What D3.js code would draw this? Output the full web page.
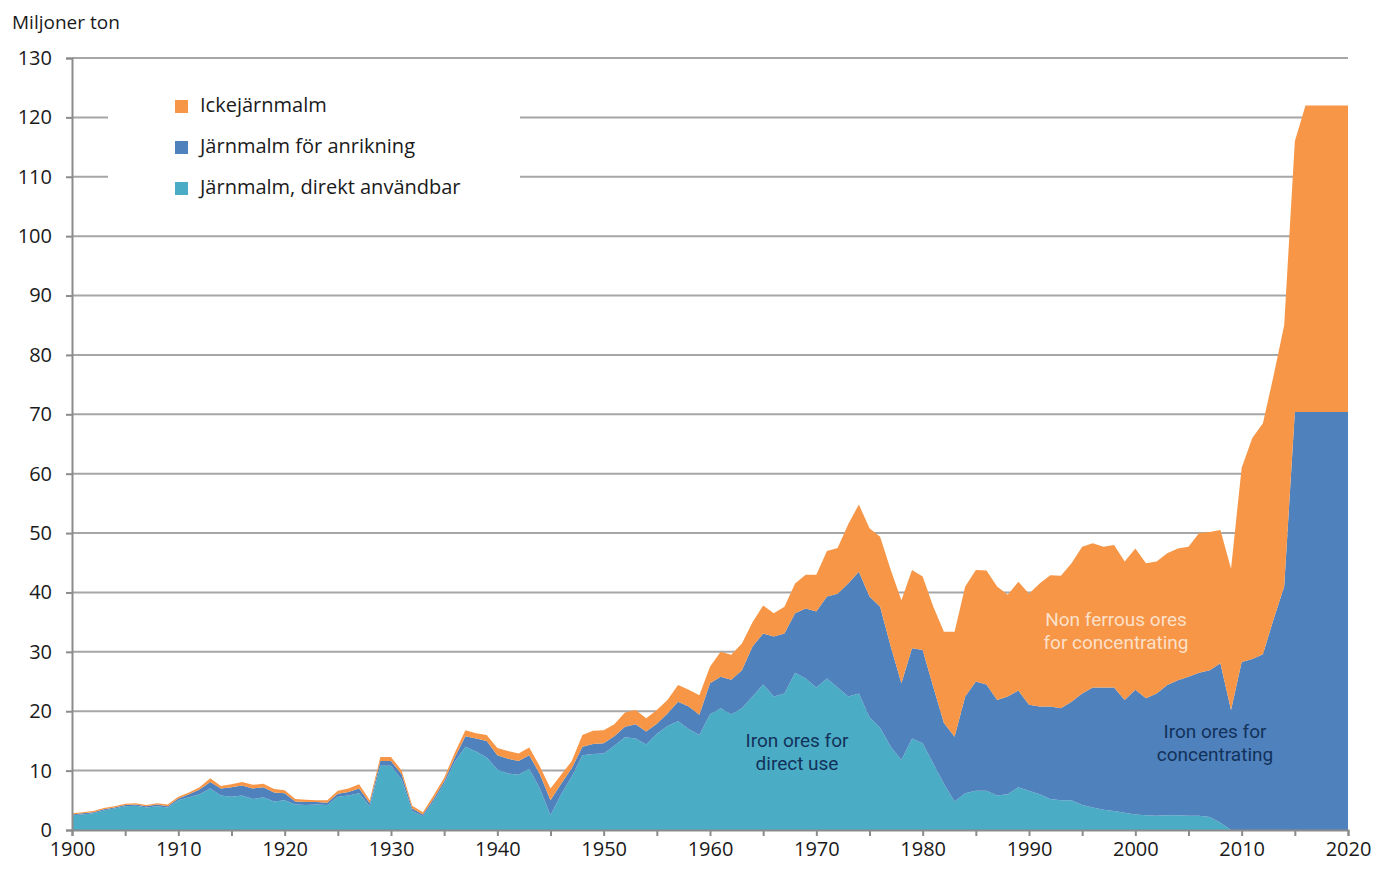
<!DOCTYPE html>
<html>
<head>
<meta charset="utf-8">
<script src="https://cdn.jsdelivr.net/npm/d3@7"></script>
<style>
  body { margin: 0; background: #fff; }
  text { font-family: "Open Sans", "Noto Sans", sans-serif; }
</style>
</head>
<body>
<script>
// years 1900-2020, one value per year
var firstYear = 1900
var lastYear = 2020

// Järnmalm, direkt användbar (iron ore for direct use), Mt
var directUse = [
  2.5, 2.6, 2.8, 3.3, 3.6, 4.0, 4.1, 3.8, 4.0, 3.8,
  5.0, 5.5, 6.0, 7.0, 5.8, 5.6, 5.8, 5.2, 5.5, 4.8,
  5.0, 4.3, 4.2, 4.3, 4.2, 5.6, 5.8, 6.2, 4.0, 10.8,
  10.8, 8.5, 3.2, 2.3, 4.8, 7.8, 11.5, 14.0, 13.2, 12.2,
  10.2, 9.5, 9.3, 10.3, 7.0, 2.5, 6.0, 9.0, 12.6, 12.8,
  12.9, 14.2, 15.6, 15.4, 14.4, 16.2, 17.5, 18.3, 17.0, 16.0,
  19.5, 20.5, 19.5, 20.5, 22.5, 24.5, 22.5, 23.0, 26.5, 25.5,
  24.0, 25.5, 24.0, 22.5, 23.0, 19.0, 17.2, 14.0, 11.8, 15.4,
  14.6, 11.2, 7.8, 4.8, 6.2, 6.6, 6.6, 5.8, 6.0, 7.2,
  6.6, 6.0, 5.2, 5.0, 5.0, 4.2, 3.8, 3.4, 3.2, 2.9,
  2.6, 2.5, 2.4, 2.5, 2.5, 2.4, 2.4, 2.2, 1.2, 0,
  0, 0, 0, 0, 0, 0, 0, 0, 0, 0,
  0
]

// Järnmalm för anrikning (iron ore for concentrating), Mt
var ironConc = [
  0.1, 0.2, 0.2, 0.2, 0.2, 0.2, 0.2, 0.2, 0.3, 0.2,
  0.3, 0.5, 0.8, 1.1, 1.2, 1.6, 1.7, 1.8, 1.7, 1.5,
  1.2, 0.5, 0.5, 0.4, 0.4, 0.5, 0.6, 0.8, 0.5, 0.8,
  0.8, 0.9, 0.4, 0.3, 0.4, 0.4, 0.7, 1.8, 2.2, 2.8,
  2.4, 2.5, 2.3, 2.3, 2.4, 2.5, 1.8, 1.4, 1.4, 1.7,
  1.7, 1.6, 1.8, 2.4, 2.2, 1.7, 2.1, 3.3, 3.8, 3.4,
  5.2, 5.3, 5.8, 6.4, 8.4, 8.6, 10.1, 10.1, 10.0, 11.8,
  12.8, 13.8, 15.8, 19.0, 20.5, 20.3, 20.4, 16.9, 12.9, 15.2,
  15.7, 12.9, 10.2, 10.9, 16.3, 18.4, 17.9, 16.1, 16.5, 16.3,
  14.5, 14.8, 15.6, 15.5, 16.6, 18.8, 20.2, 20.6, 20.8, 19.0,
  21.0, 19.7, 20.6, 21.9, 22.7, 23.4, 24.1, 24.7, 26.9, 20.2,
  28.3, 28.8, 29.6, 35.5, 41.0, 70.4, 70.4, 70.4, 70.4, 70.4,
  70.4
]

// Ickejärnmalm (non-ferrous ore), Mt
var nonFerrous = [
  0.2, 0.2, 0.2, 0.2, 0.2, 0.2, 0.2, 0.2, 0.2, 0.3,
  0.3, 0.3, 0.4, 0.6, 0.4, 0.5, 0.6, 0.6, 0.6, 0.6,
  0.5, 0.4, 0.4, 0.3, 0.4, 0.5, 0.6, 0.7, 0.5, 0.7,
  0.7, 0.6, 0.5, 0.4, 0.6, 0.6, 0.8, 1.0, 0.9, 1.0,
  1.2, 1.3, 1.3, 1.3, 1.3, 2.0, 1.5, 1.2, 2.0, 2.2,
  2.2, 2.0, 2.4, 2.4, 2.2, 2.3, 2.3, 2.8, 2.8, 3.3,
  2.8, 4.2, 4.2, 4.5, 4.1, 4.7, 3.9, 4.5, 5.0, 5.7,
  6.2, 7.7, 7.7, 10.0, 11.3, 11.5, 11.8, 12.9, 14.0, 13.2,
  12.4, 13.5, 15.4, 17.7, 18.5, 18.8, 19.2, 19.1, 17.1, 18.3,
  18.7, 20.7, 22.1, 22.3, 23.3, 24.7, 24.3, 23.7, 24.0, 23.3,
  23.8, 22.7, 22.2, 22.2, 22.2, 21.9, 23.5, 23.3, 22.4, 23.8,
  32.7, 37.2, 38.9, 41.0, 44.0, 45.6, 51.6, 51.6, 51.6, 51.6,
  51.6
]

var seriesKeys = ["direct", "conc", "nonFerrous"]
var seriesColors = ["#4bacc6", "#4f81bd", "#f79646"]
var legendLabels = ["Ickejärnmalm", "Järnmalm för anrikning", "Järnmalm, direkt användbar"]
var legendColors = ["#f79646", "#4f81bd", "#4bacc6"]
var yTicks = [0, 10, 20, 30, 40, 50, 60, 70, 80, 90, 100, 110, 120, 130]
var xTicks = d3.range(firstYear, lastYear + 1, 5)

var rows = directUse.map(function(d, i) {
  return { year: firstYear + i, direct: d, conc: ironConc[i], nonFerrous: nonFerrous[i] }
})

var width = 1375, height = 875
var plotLeft = 72, plotRight = 1348, plotTop = 58, plotBottom = 830

var svg = d3.select("body")
  .append("svg")
    .attr("width", width)
    .attr("height", height)

var x = d3.scaleLinear().domain([firstYear, lastYear]).range([plotLeft, plotRight])
var y = d3.scaleLinear().domain([0, 130]).range([plotBottom, plotTop])

// grid lines
svg.append("g").selectAll("line")
  .data(yTicks.filter(function(d) { return d > 0 }))
  .join("line")
    .attr("x1", plotLeft).attr("x2", plotRight)
    .attr("y1", function(d) { return y(d) }).attr("y2", function(d) { return y(d) })
    .attr("stroke", "#a6a6a6").attr("stroke-width", 2)

// stacked areas
var stacked = d3.stack().keys(seriesKeys)(rows)
var area = d3.area()
  .x(function(d) { return x(d.data.year) })
  .y0(function(d) { return y(d[0]) })
  .y1(function(d) { return y(d[1]) })

svg.append("g").selectAll("path")
  .data(stacked)
  .join("path")
    .attr("d", area)
    .attr("fill", function(d, i) { return seriesColors[i] })

// axes
var yAxis = svg.append("g")
  .attr("transform", "translate(" + plotLeft + ",0)")
  .call(d3.axisLeft(y).tickValues(yTicks).tickSize(6).tickPadding(14))
yAxis.select(".domain").attr("stroke", "#8c8c8c").attr("stroke-width", 2)
yAxis.selectAll(".tick line").attr("stroke", "#8c8c8c").attr("stroke-width", 2)
yAxis.selectAll("text").style("font-size", "20px").attr("fill", "#1a1a1a")

var xAxis = svg.append("g")
  .attr("transform", "translate(0," + plotBottom + ")")
  .call(d3.axisBottom(x).tickValues(xTicks).tickSize(6).tickPadding(6)
    .tickFormat(function(d) { return d % 10 === 0 ? d : "" }))
xAxis.select(".domain").attr("stroke", "#8c8c8c").attr("stroke-width", 2)
xAxis.selectAll(".tick line").attr("stroke", "#8c8c8c").attr("stroke-width", 2)
xAxis.selectAll("text").style("font-size", "20px").attr("fill", "#1a1a1a")

// unit label
svg.append("text").attr("x", 12).attr("y", 29).text("Miljoner ton").style("font-size", "19px").attr("fill", "#1a1a1a")

// legend
svg.append("rect").attr("x", 108).attr("y", 78).attr("width", 412).attr("height", 134).attr("fill", "#fff")
legendLabels.forEach(function(lab, i) {
  svg.append("rect").attr("x", 175).attr("y", 100 + i * 41).attr("width", 13).attr("height", 13).style("fill", legendColors[i])
  svg.append("text").attr("x", 200).attr("y", 107 + i * 41).text(lab)
    .style("font-size", "20px").attr("dominant-baseline", "middle").attr("fill", "#1a1a1a")
})

// labels inside the areas, one text per line
function areaLabel(lines, cx, cy, color, opacity) {
  lines.forEach(function(s, i) {
    svg.append("text").attr("text-anchor", "middle")
      .attr("x", cx).attr("y", cy + i * 23)
      .text(s)
      .style("font-family", "Roboto, sans-serif")
      .style("font-size", "19px").attr("fill", color).attr("fill-opacity", opacity)
  })
}
areaLabel(["Iron ores for", "direct use"], 797, 747, "#12325a", 1)
areaLabel(["Non ferrous ores", "for concentrating"], 1116, 626, "#ffffff", 0.72)
areaLabel(["Iron ores for", "concentrating"], 1215, 738, "#12325a", 1)
</script>
</body>
</html>
